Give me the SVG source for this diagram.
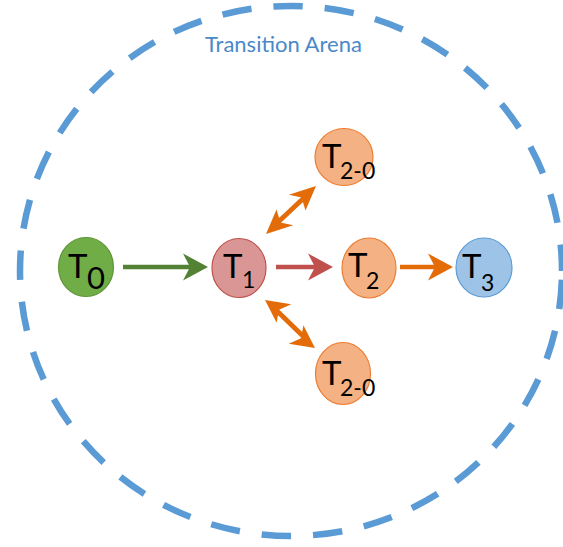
<svg xmlns="http://www.w3.org/2000/svg" width="563" height="547" viewBox="0 0 563 547">
<style>
.lbl{font-family:Lato,"Open Sans","Liberation Sans",sans-serif;fill:#000;}
.big{font-size:33px;}
.sub{font-size:23px;}
.node{stroke-width:1.2;}
</style>
<rect width="563" height="547" fill="#fff"/>
<g id="arena">
<ellipse cx="291" cy="271" rx="271" ry="265" fill="none" stroke="#5B9BD5" stroke-width="6.5" stroke-dasharray="29.5 22" stroke-dashoffset="-8.75"/>
<text x="205" y="52" font-family="Lato,'Open Sans','Liberation Sans',sans-serif" font-size="22" fill="#4A89C8">Transition Arena</text>
</g>
<g id="connectors">
<g id="e-t0-t1" fill="#548235">
<line x1="123" y1="267" x2="192" y2="267" stroke="#548235" stroke-width="4.5"/>
<polygon points="208,267 183,253.5 190,267 183,280.5"/>
</g>
<g id="e-t1-t2" fill="#C0504D">
<line x1="276" y1="267" x2="318" y2="267" stroke="#C0504D" stroke-width="4.5"/>
<polygon points="333,267 308,253.5 315,267 308,280.5"/>
</g>
<g id="e-t2-t3" fill="#E36C09">
<line x1="400" y1="267" x2="438" y2="267" stroke="#E36C09" stroke-width="4.5"/>
<polygon points="453,267 428,253.5 435,267 428,280.5"/>
</g>
<g id="e-t1-t20a" fill="#E36C09">
<line x1="275" y1="225" x2="307" y2="195" stroke="#E36C09" stroke-width="4.8"/>
<polygon points="266,234 276.5,209.4 280.4,222.4 293.2,225.2"/>
<polygon points="316,186 305.5,210.6 301.6,197.6 288.8,194.8"/>
</g>
<g id="e-t1-t20b" fill="#E36C09">
<line x1="274" y1="308" x2="306" y2="339" stroke="#E36C09" stroke-width="4.8"/>
<polygon points="265,300 291.3,304.3 279,309.7 276.6,322.8"/>
<polygon points="315,348 288.7,343.7 301,338.3 303.4,325.2"/>
</g>
</g>
<g id="T0">
<ellipse class="node" cx="86" cy="267" rx="27.5" ry="29.5" fill="#70AD47" stroke="#5E9437"/>
<text class="lbl"><tspan class="big" x="68" y="278">T</tspan><tspan x="87" y="289" font-size="31">0</tspan></text>
</g>
<g id="T1">
<ellipse class="node" cx="239" cy="268" rx="27" ry="29.5" fill="#D99694" stroke="#C0504D"/>
<text class="lbl"><tspan class="big" x="223" y="278">T</tspan><tspan class="sub" x="242" y="288">1</tspan></text>
</g>
<g id="T2-0-top">
<ellipse class="node" cx="344" cy="157" rx="29" ry="28.5" fill="#F4B183" stroke="#ED7D31"/>
<text class="lbl"><tspan class="big" x="322" y="168">T</tspan><tspan class="sub" x="340" y="179">2-0</tspan></text>
</g>
<g id="T2">
<ellipse class="node" cx="369" cy="268" rx="27" ry="30" fill="#F4B183" stroke="#ED7D31"/>
<text class="lbl"><tspan class="big" x="348" y="277">T</tspan><tspan class="sub" x="366" y="289">2</tspan></text>
</g>
<g id="T2-0-bottom">
<ellipse class="node" cx="343" cy="373.5" rx="27.5" ry="31" fill="#F4B183" stroke="#ED7D31"/>
<text class="lbl"><tspan class="big" x="322" y="385">T</tspan><tspan class="sub" x="340" y="396">2-0</tspan></text>
</g>
<g id="T3">
<ellipse class="node" cx="484" cy="267.5" rx="28" ry="29.5" fill="#9DC3E6" stroke="#5B9BD5"/>
<text class="lbl"><tspan class="big" x="462" y="278">T</tspan><tspan class="sub" x="481" y="291">3</tspan></text>
</g>
</svg>
